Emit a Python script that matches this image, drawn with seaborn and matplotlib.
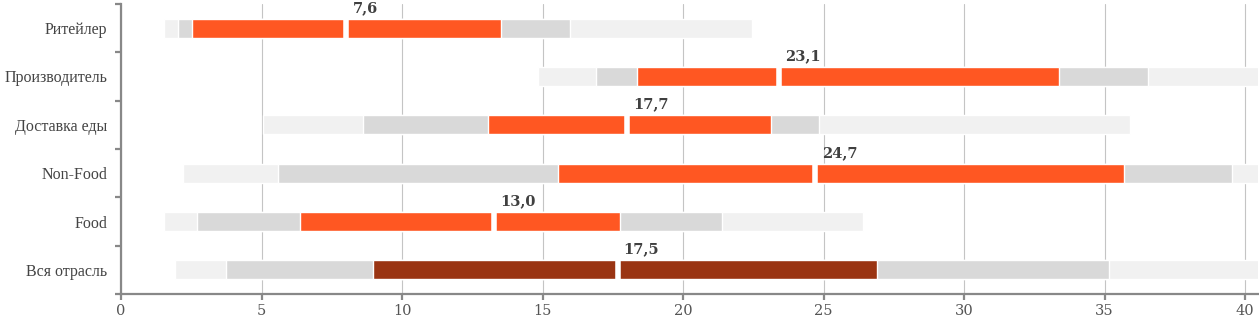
import numpy as np
import pandas as pd
import matplotlib
matplotlib.use("Agg")
import matplotlib.pyplot as plt
import seaborn as sns

categories = ["Ритейлер", "Производитель", "Доставка еды", "Non-Food", "Food", "Вся отрасль"]
outer_lo = [1.53, 14.84, 5.05, 2.21, 1.53, 1.92]
inner_lo = [2.03, 16.90, 8.61, 5.59, 2.70, 3.74]
q1 = [2.53, 18.36, 13.06, 15.55, 6.37, 8.97]
median_gap = [8.02, 23.40, 18.02, 24.71, 13.26, 17.67]
median_labels = [7.6, 23.1, 17.7, 24.7, 13.0, 17.5]
q3 = [13.52, 33.38, 23.13, 35.69, 17.76, 26.90]
inner_hi = [15.98, 36.55, 24.84, 39.54, 21.39, 35.16]
outer_hi = [22.46, 41.0, 35.90, 41.0, 26.40, 41.0]
highlight = [False, False, False, False, False, True]

df = pd.DataFrame({
    "cat": categories, "outer_lo": outer_lo, "inner_lo": inner_lo, "q1": q1,
    "gap": median_gap, "label": median_labels, "q3": q3,
    "inner_hi": inner_hi, "outer_hi": outer_hi, "hl": highlight,
})

sns.set_theme(style="whitegrid")
plt.rcParams["font.family"] = ["DejaVu Serif", "DejaVu Sans"]

fig = plt.figure(figsize=(12.59, 3.23), dpi=100)
ax = fig.add_axes([121/1259, 1 - 294/323, 1 - 121/1259 - 0.0008, (294 - 4)/323])

LIGHT = "#f1f1f1"
MID = "#d9d9d9"
ORANGE = "#ff5722"
DARK = "#9a3412"
H = 0.39

y = np.arange(len(df))
ax.barh(y, df["outer_hi"] - df["outer_lo"], left=df["outer_lo"], height=H, color=LIGHT, zorder=2)
ax.barh(y, df["inner_hi"] - df["inner_lo"], left=df["inner_lo"], height=H, color=MID, zorder=3)
core_colors = [DARK if h else ORANGE for h in df["hl"]]
ax.barh(y, df["q3"] - df["q1"], left=df["q1"], height=H, color=core_colors, zorder=4)
ax.vlines(df["gap"], y - H/2, y + H/2, colors="white", linewidth=4.0, zorder=5)

for yi, g, lab in zip(y, df["gap"], df["label"]):
    ax.text(g + 0.22, yi - 0.42, f"{lab:.1f}".replace(".", ","), ha="left", va="center",
            fontsize=10.5, fontweight="bold", color="#404040", zorder=6)

ax.set_xlim(0, 40.46)
ax.set_ylim(len(df) - 0.5, -0.5)
ax.set_xticks(np.arange(0, 41, 5))
ax.set_yticks(np.arange(-0.5, len(df), 1.0))
ax.set_yticklabels([])
ax.set_yticks(y, minor=True)
ax.set_yticklabels(df["cat"], minor=True, family=["Liberation Serif", "DejaVu Serif"])

ax.grid(axis="x", color="#c4c4c4", linewidth=0.8)
ax.grid(axis="y", visible=False)
ax.grid(axis="y", which="minor", visible=False)
ax.set_axisbelow(True)

for s in ["top", "right"]:
    ax.spines[s].set_visible(False)
for s in ["left", "bottom"]:
    ax.spines[s].set_visible(True)
    ax.spines[s].set_color("#888888")
    ax.spines[s].set_linewidth(1.6)

ax.tick_params(axis="x", which="major", bottom=True, length=4, width=1.6, color="#888888",
               labelsize=10.5, labelcolor="#555555", pad=3)
ax.tick_params(axis="y", which="major", left=True, length=4, width=1.6, color="#888888")
ax.tick_params(axis="y", which="minor", left=False, length=0, labelsize=11.5,
               labelcolor="#444444", pad=10)
ax.set_xlabel("")
ax.set_ylabel("")
ax.set_facecolor("white")
fig.patch.set_facecolor("white")

fig.savefig("out.png", dpi=100, facecolor="white")
